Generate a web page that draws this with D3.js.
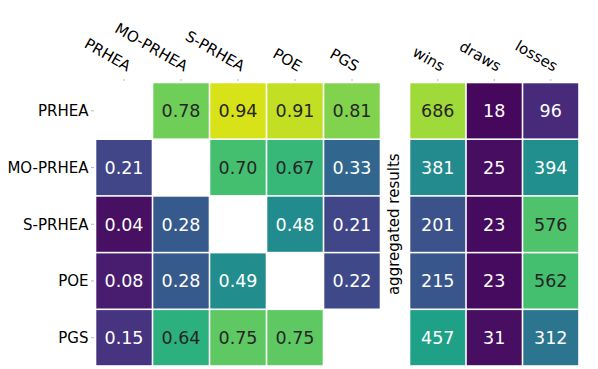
<!DOCTYPE html>
<html>
<head>
<meta charset="utf-8">
<script src="https://cdn.jsdelivr.net/npm/d3@7"></script>
<style>
  body { margin: 0; background: #fff; }
  svg text { font-family: "DejaVu Sans", sans-serif; }
</style>
</head>
<body>
<div id="main"></div>
<script>
const cte = {
    w: 598,
    h: 369,
    labelSize: 15,
    annotSize: 17.5,
};

// algorithms compared (rows and columns of the left matrix)
const algos = ["PRHEA", "MO-PRHEA", "S-PRHEA", "POE", "PGS"];
// pairwise win rates, row vs column, no diagonal
const pairwise = [
    [null, 0.78, 0.94, 0.91, 0.81],
    [0.21, null, 0.70, 0.67, 0.33],
    [0.04, 0.28, null, 0.48, 0.21],
    [0.08, 0.28, 0.49, null, 0.22],
    [0.15, 0.64, 0.75, 0.75, null]
];
// aggregated results
const outcomes = ["wins", "draws", "losses"];
const wins = [686, 381, 201, 215, 457];
const draws = [18, 25, 23, 23, 31];
const losses = [96, 394, 576, 562, 312];

const svg = d3.select("#main").append("svg")
    .attr("width", cte.w)
    .attr("height", cte.h);

const yScale = d3.scaleBand().domain(algos).range([82.5, 366]);
const xLeft = d3.scaleBand().domain(algos).range([95.5, 380.5]);
const xRight = d3.scaleBand().domain(outcomes).range([409.5, 579]);

const colorLeft = d3.scaleSequential(d3.interpolateViridis).domain([0, 1]);
const colorRight = d3.scaleSequential(d3.interpolateViridis).domain([0, 800]);

// dark text on the bright end of viridis, white on the dark end
function textColor(t) {
    return t > 0.6 ? "#262626" : "#ffffff";
}

const gap = 0.8;

// left matrix cells
let leftCells = [];
pairwise.forEach((row, i) => {
    row.forEach((v, j) => {
        if (v !== null) leftCells.push({ row: algos[i], col: algos[j], value: v });
    });
});

let gl = svg.append("g");
gl.selectAll("rect")
    .data(leftCells)
    .enter().append("rect")
    .attr("x", d => xLeft(d.col) + gap)
    .attr("y", d => yScale(d.row) + gap)
    .attr("width", xLeft.bandwidth() - 2 * gap)
    .attr("height", yScale.bandwidth() - 2 * gap)
    .attr("fill", d => colorLeft(d.value));

gl.selectAll("text")
    .data(leftCells)
    .enter().append("text")
    .attr("x", d => xLeft(d.col) + xLeft.bandwidth() / 2)
    .attr("y", d => yScale(d.row) + yScale.bandwidth() / 2)
    .attr("dy", "0.36em")
    .attr("text-anchor", "middle")
    .style("font-size", cte.annotSize + "px")
    .style("fill", d => textColor(d.value))
    .text(d => d.value.toFixed(2));

// right matrix cells
let rightCells = [];
algos.forEach((a, i) => {
    rightCells.push({ row: a, col: "wins", value: wins[i] });
    rightCells.push({ row: a, col: "draws", value: draws[i] });
    rightCells.push({ row: a, col: "losses", value: losses[i] });
});

let gr = svg.append("g");
gr.selectAll("rect")
    .data(rightCells)
    .enter().append("rect")
    .attr("x", d => xRight(d.col) + gap)
    .attr("y", d => yScale(d.row) + gap)
    .attr("width", xRight.bandwidth() - 2 * gap)
    .attr("height", yScale.bandwidth() - 2 * gap)
    .attr("fill", d => colorRight(d.value));

gr.selectAll("text")
    .data(rightCells)
    .enter().append("text")
    .attr("x", d => xRight(d.col) + xRight.bandwidth() / 2)
    .attr("y", d => yScale(d.row) + yScale.bandwidth() / 2)
    .attr("dy", "0.36em")
    .attr("text-anchor", "middle")
    .style("font-size", cte.annotSize + "px")
    .style("fill", d => textColor(d.value / 800))
    .text(d => d.value);

// axes
function styleAxis(g) {
    g.select(".domain").remove();
    g.selectAll(".tick line").attr("stroke", "#aaa").attr("stroke-width", 0.8);
    g.selectAll("text")
        .style("font-size", cte.labelSize + "px")
        .attr("fill", "#000");
}

svg.append("g")
    .attr("transform", "translate(94,0)")
    .call(d3.axisLeft(yScale).tickSize(3).tickPadding(2.5))
    .call(styleAxis)
    .selectAll("text")
    .attr("dy", "0.36em");

function topAxis(scale) {
    let g = svg.append("g")
        .attr("transform", "translate(0,81)")
        .call(d3.axisTop(scale).tickSize(2))
        .call(styleAxis);
    g.selectAll(".tick text")
        .attr("x", 3)
        .attr("y", -9)
        .attr("dy", "0em")
        .attr("text-anchor", "end")
        .attr("transform", "rotate(30, 3, -9)");
}
topAxis(xLeft);
topAxis(xRight);

// label between the two blocks
svg.append("text")
    .attr("transform", `translate(399, ${(82.5 + 366) / 2}) rotate(-90)`)
    .attr("text-anchor", "middle")
    .style("font-size", cte.labelSize + "px")
    .style("fill", "#000")
    .text("aggregated results");
</script>
</body>
</html>
